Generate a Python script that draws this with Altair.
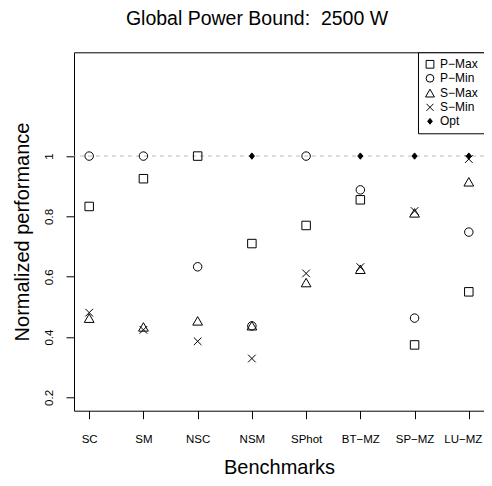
import altair as alt
import pandas as pd

benchmarks = ["SC", "SM", "NSC", "NSM", "SPhot", "BT\u2212MZ", "SP\u2212MZ", "LU\u2212MZ"]
series_names = ["P\u2212Max", "P\u2212Min", "S\u2212Max", "S\u2212Min", "Opt"]

p_max = [0.833, 0.925, 1.0, 0.710, 0.770, 0.855, 0.374, 0.550]
p_min = [1.0, 1.0, 0.633, 0.437, 1.0, 0.888, 0.463, 0.748]
s_max = [0.462, 0.433, 0.453, 0.437, 0.580, 0.624, 0.811, 0.914]
s_min = [0.481, 0.424, 0.386, 0.329, 0.611, 0.632, 0.818, 0.990]
opt = [None, None, None, 1.0, None, 1.0, 1.0, 1.0]

y_ticks = [0.2, 0.4, 0.6, 0.8, 1.0]
y_domain = [0.156, 1.344]
ref_value = [1.0]

rows = []
for name, vals in zip(series_names, [p_max, p_min, s_max, s_min, opt]):
    for b, v in zip(benchmarks, vals):
        if v is not None:
            rows.append({"bench": b, "series": name, "value": v})
df = pd.DataFrame(rows)
ref_df = pd.DataFrame({"y": ref_value})

shape_paths = [
    "M-1,-1H1V1H-1Z",
    "circle",
    "M0,-1.05L1.15,0.95H-1.15Z",
    "M-0.9,-0.9L0.9,0.9M-0.9,0.9L0.9,-0.9",
    "M0,-0.75L0.6,0L0,0.75L-0.6,0Z",
]
fills = ["transparent", "transparent", "transparent", "transparent", "black"]
strokes = ["black"] * 5

last_label = benchmarks[-1]

x_enc = alt.X("bench:N", sort=benchmarks,
              scale=alt.Scale(type="point", padding=0.28),
              axis=alt.Axis(title="Benchmarks", labelAngle=0, labelFontSize=11.5,
                            labelBaseline="alphabetic", labelPadding=24,
                            labelOffset={"condition": {"test": f"datum.label === '{last_label}'", "value": -6},
                                         "value": 0},
                            titleFontSize=20, titleFontWeight="normal",
                            titleY=63, titleBaseline="alphabetic"))
y_scale = alt.Scale(domain=y_domain, nice=False, zero=False)

rule = alt.Chart(ref_df).mark_rule(color="#bdbdbd", strokeDash=[4, 4], strokeWidth=1).encode(
    y=alt.Y("y:Q", scale=y_scale)
)

points = alt.Chart(df).mark_point(filled=True, strokeWidth=1, size=72, opacity=1).encode(
    x=x_enc,
    y=alt.Y("value:Q", scale=y_scale,
            axis=alt.Axis(title="Normalized performance", values=y_ticks, format="~g",
                          labelAngle=270, labelAlign="center", labelBaseline="alphabetic",
                          labelFontSize=11.5, labelPadding=14,
                          titleFontSize=20, titleFontWeight="normal",
                          titleX=-46, titleBaseline="alphabetic")),
    shape=alt.Shape("series:N", sort=series_names,
                    scale=alt.Scale(domain=series_names, range=shape_paths),
                    legend=alt.Legend(title=None)),
    fill=alt.Fill("series:N", sort=series_names,
                  scale=alt.Scale(domain=series_names, range=fills),
                  legend=alt.Legend(title=None)),
    stroke=alt.Stroke("series:N", sort=series_names,
                      scale=alt.Scale(domain=series_names, range=strokes),
                      legend=alt.Legend(title=None)),
)

chart = alt.layer(rule, points).properties(
    width=410,
    height=358.4,
    title=alt.Title("Global Power Bound:\u00a0 2500 W", fontSize=19.5, fontWeight="normal",
                    anchor="middle", offset=22, dx=-22),
    autosize=alt.AutoSizeParams(type="none"),
    padding={"left": 66, "top": 44.3, "right": 0, "bottom": 67},
).configure(
    font="Liberation Sans",
).configure_view(
    stroke="black", strokeWidth=1,
).configure_axis(
    domain=False, grid=False, tickColor="black", tickSize=8, tickWidth=1,
    labelColor="black", titleColor="black", labelFont="Liberation Sans", titleFont="Liberation Sans",
).configure_legend(
    orient="top-right", offset=0, padding=6, strokeColor="black", fillColor="white",
    labelFontSize=12, labelColor="black", symbolSize=60, symbolStrokeColor="black",
    symbolStrokeWidth=1, rowPadding=2, labelOffset=4, cornerRadius=0,
).configure_title(
    color="black", font="Liberation Sans",
)

chart.save("out.html", embed_options={"renderer": "svg", "actions": False})
